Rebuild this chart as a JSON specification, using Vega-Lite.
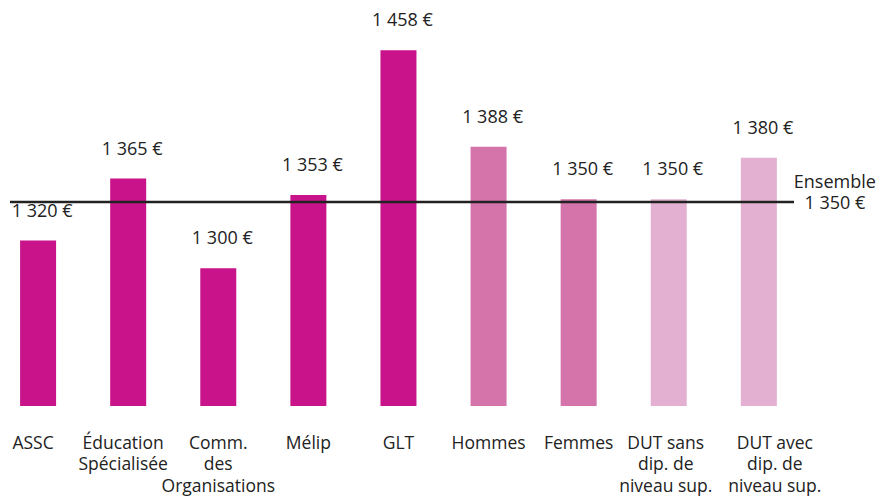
{
  "$schema": "https://vega.github.io/schema/vega-lite/v6.json",
  "width": 784,
  "height": 386,
  "autosize": {"type": "none"},
  "padding": {"left": 10, "top": 20, "right": 84, "bottom": 91},
  "background": "white",
  "config": {"view": {"stroke": null}, "font": "Open Sans"},
  "data": {
    "values": [
      {"cat": "ASSC", "value": 1320, "label": "1 320 €", "group": "Filière"},
      {"cat": "Éducation|Spécialisée", "value": 1365, "label": "1 365 €", "group": "Filière"},
      {"cat": "Comm.|des|Organisations", "value": 1300, "label": "1 300 €", "group": "Filière"},
      {"cat": "Mélip", "value": 1353, "label": "1 353 €", "group": "Filière"},
      {"cat": "GLT", "value": 1458, "label": "1 458 €", "group": "Filière"},
      {"cat": "Hommes", "value": 1388, "label": "1 388 €", "group": "Sexe"},
      {"cat": "Femmes", "value": 1350, "label": "1 350 €", "group": "Sexe"},
      {"cat": "DUT sans|dip. de|niveau sup.", "value": 1350, "label": "1 350 €", "group": "Diplôme"},
      {"cat": "DUT avec|dip. de|niveau sup.", "value": 1380, "label": "1 380 €", "group": "Diplôme"}
    ]
  },
  "encoding": {
    "x": {
      "field": "cat",
      "type": "nominal",
      "sort": null,
      "title": null,
      "scale": {"paddingInner": 0.6, "paddingOuter": 0.151, "align": 0.37},
      "axis": {
        "domain": false,
        "ticks": false,
        "grid": false,
        "labelAngle": 0,
        "labelFont": "Open Sans",
        "labelFontSize": 17.5,
        "labelColor": "#222222",
        "labelPadding": 28,
        "labelBaseline": "top",
        "labelLineHeight": 21.5,
        "labelLimit": 0,
        "labelOverlap": false,
        "labelBound": false,
        "labelExpr": "split(datum.label, '|')",
        "labelOffset": {"expr": "datum.value === 'DUT avec|dip. de|niveau sup.' ? 16 : (datum.value === 'ASSC' || datum.value === 'Éducation|Spécialisée') ? -5 : (datum.value === 'DUT sans|dip. de|niveau sup.' ? -3 : 0)"}
      }
    }
  },
  "layer": [
    {
      "mark": {"type": "bar", "width": 36},
      "encoding": {
        "y": {"field": "value", "type": "quantitative", "scale": {"domain": [1200, 1480], "zero": false, "nice": false}, "axis": null},
        "y2": {"datum": 1200},
        "color": {
          "field": "group",
          "type": "nominal",
          "scale": {"domain": ["Filière", "Sexe", "Diplôme"], "range": ["#C8138A", "#D474AB", "#E4B0D1"]},
          "legend": null
        }
      }
    },
    {
      "mark": {"type": "text", "dy": -29, "dx": 4, "fontSize": 18, "font": "Open Sans", "color": "#222222", "baseline": "middle"},
      "encoding": {
        "y": {"field": "value", "type": "quantitative"},
        "text": {"field": "label"}
      }
    },
    {
      "data": {"values": [{"ref": 1348, "anchor": "DUT avec|dip. de|niveau sup."}]},
      "mark": {"type": "rule", "strokeWidth": 2.5, "color": "#222222"},
      "encoding": {
        "x": null,
        "y": {"field": "ref", "type": "quantitative"}
      }
    },
    {
      "data": {"values": [{"ref": 1348, "anchor": "DUT avec|dip. de|niveau sup.", "t": ["Ensemble", "1 350 €"]}]},
      "mark": {"type": "text", "dx": 76, "dy": -19, "fontSize": 18, "font": "Open Sans", "color": "#222222", "align": "center", "baseline": "middle", "lineHeight": 21},
      "encoding": {
        "x": {"field": "anchor", "type": "nominal"},
        "y": {"field": "ref", "type": "quantitative"},
        "text": {"field": "t"}
      }
    }
  ]
}
